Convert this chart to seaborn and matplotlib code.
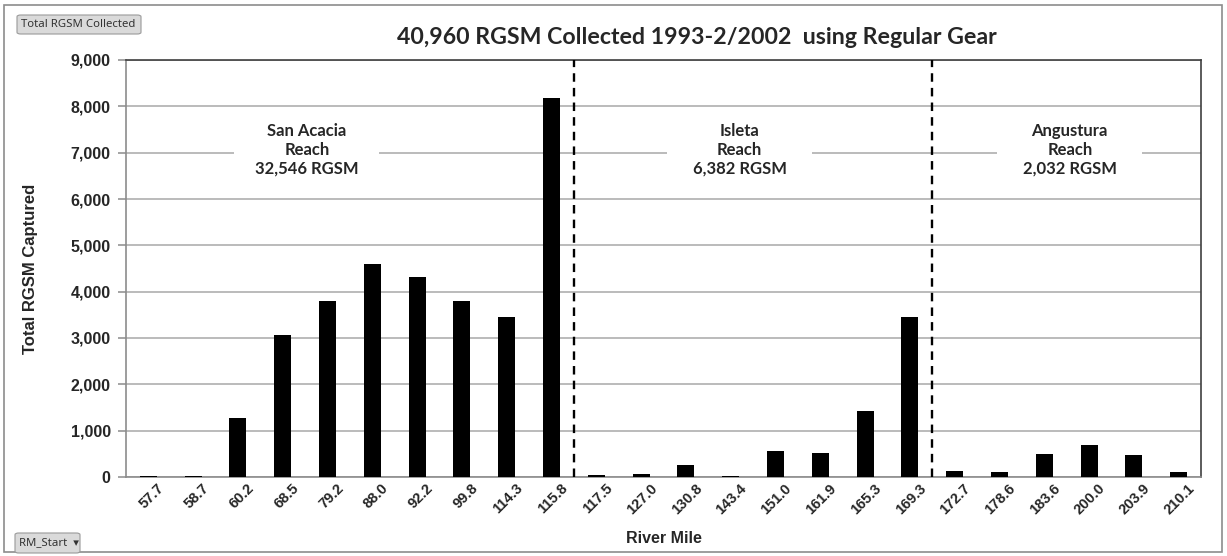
import matplotlib
matplotlib.use("Agg")
import matplotlib.pyplot as plt
import matplotlib.transforms as mtransforms
from matplotlib.patches import FancyBboxPatch, Rectangle
from matplotlib.ticker import FuncFormatter
import numpy as np
import pandas as pd
import seaborn as sns

# River-mile sampling sites (start of reach segment) and RGSM totals
river_miles = ["57.7", "58.7", "60.2", "68.5", "79.2", "88.0", "92.2", "99.8", "114.3", "115.8",
               "117.5", "127.0", "130.8", "143.4", "151.0", "161.9", "165.3", "169.3",
               "172.7", "178.6", "183.6", "200.0", "203.9", "210.1"]
rgsm_counts = [20, 18, 1280, 3075, 3800, 4595, 4325, 3800, 3450, 8183,
               45, 67, 269, 21, 570, 520, 1430, 3460,
               140, 106, 500, 700, 480, 106]

reach_names = ["San Acacia", "Isleta", "Angustura"]
reach_site_counts = [10, 8, 6]
reach_totals = [32546, 6382, 2032]

title_text = "40,960 RGSM Collected 1993-2/2002  using Regular Gear"

sns.set_theme(style="white")
plt.rcParams["font.family"] = ["Liberation Sans", "DejaVu Sans"]

W, H = 1227, 556
fig = plt.figure(figsize=(W / 100, H / 100), dpi=100)
fig.patch.set_facecolor("white")

ax = fig.add_axes([126 / W, (H - 477) / H, 1075 / W, 417 / H])

df = pd.DataFrame({"River Mile": river_miles, "Total": rgsm_counts})
sns.barplot(data=df, x="River Mile", y="Total", order=river_miles, color="black",
            saturation=1, width=0.38, linewidth=0, ax=ax, zorder=3)

n = len(river_miles)
ax.set_xlim(-0.5, n - 0.5)
ax.set_ylim(0, 9000)
ax.set_yticks(np.arange(0, 9001, 1000))
ax.yaxis.set_major_formatter(FuncFormatter(lambda v, p: f"{int(v):,}"))
ax.grid(axis="y", color="#a8a8a8", lw=1.1, zorder=0)
ax.grid(axis="x", visible=False)
ax.set_axisbelow(True)

for side in ["left", "right", "top", "bottom"]:
    ax.spines[side].set_visible(True)
    ax.spines[side].set_linewidth(1.2)
ax.spines["left"].set_color("#8c8c8c")
ax.spines["bottom"].set_color("#8c8c8c")
ax.spines["top"].set_color("#404040")
ax.spines["right"].set_color("#404040")

# labels at category centres, tick marks at the category boundaries
ax.set_xticks(np.arange(n))
ax.set_xticks(np.arange(-0.5, n, 1.0), minor=True)
ax.tick_params(axis="x", which="major", length=0, pad=3)
ax.tick_params(axis="x", which="minor", length=5, width=1.1, color="#8c8c8c", direction="out")
ax.tick_params(axis="y", length=6, width=1.1, color="#8c8c8c", direction="out", pad=5,
               left=True, labelsize=11.5)
for lab in ax.get_yticklabels():
    lab.set_fontweight("bold")

ax.set_xticklabels(river_miles, rotation=45, ha="right", va="top",
                   rotation_mode="anchor", fontsize=10.5, fontweight="bold")
offset = mtransforms.ScaledTranslation(9 / 100, 0, fig.dpi_scale_trans)
for lab in ax.get_xticklabels():
    lab.set_transform(lab.get_transform() + offset)

ax.set_xlabel("River Mile", fontsize=11.5, fontweight="bold")
ax.set_ylabel("Total RGSM Captured", fontsize=12, fontweight="bold")
ax.xaxis.set_label_coords(0.5, -0.13)
ax.yaxis.set_label_coords(-0.082, 0.5)

# dashed separators between reaches
bounds = np.cumsum(reach_site_counts)[:-1] - 0.5
for b in bounds:
    ax.axvline(b, color="black", lw=1.7, ls=(0, (3.6, 2.6)), zorder=4)

# reach annotations, each on a white strip that breaks the gridline
label_x = [3.54, 13.2, 20.57]
gap_width = 145 / (1075 / n)
for name, total, lx in zip(reach_names, reach_totals, label_x):
    ax.add_patch(Rectangle((lx - gap_width / 2, 6800), gap_width, 400,
                           fc="white", ec="none", zorder=1))
    ax.text(lx, 7060, f"{name}\nReach\n{total:,} RGSM", ha="center", va="center",
            fontsize=12, fontweight="bold", family=["Lato", "DejaVu Sans"],
            linespacing=1.22, zorder=5)

fig.text(697 / W, 1 - 38 / H, title_text, ha="center", va="center",
         fontsize=16.7, fontweight="bold", family=["Lato", "DejaVu Sans"])

# outer frame of the chart
fig.patches.append(Rectangle((4 / W, 4 / H), (1222 - 4) / W, (551 - 4) / H,
                             transform=fig.transFigure, fill=False,
                             ec="#8c8c8c", lw=1.2))

# field buttons
def field_button(x0, y0, x1, y1, label):
    fig.patches.append(FancyBboxPatch((x0 / W, 1 - y1 / H), (x1 - x0) / W, (y1 - y0) / H,
                                      boxstyle="round,pad=0,rounding_size=0.003",
                                      transform=fig.transFigure, fc="#dadada",
                                      ec="#9a9a9a", lw=0.8))
    fig.text((x0 + 4) / W, 1 - (y0 + y1) / 2 / H, label, ha="left", va="center",
             fontsize=8.2, color="#333333", family=["Noto Sans", "DejaVu Sans"])

field_button(17, 15, 141, 34, "Total RGSM Collected")
field_button(15, 533, 80, 553, "RM_Start  \u25BE")

fig.savefig("out.png", dpi=100, facecolor="white")
